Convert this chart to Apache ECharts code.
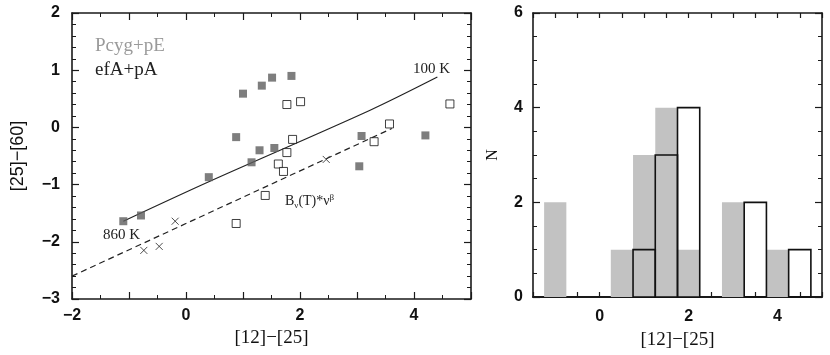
<!DOCTYPE html>
<html>
<head>
<meta charset="utf-8">
<script src="https://cdn.jsdelivr.net/npm/echarts@6/dist/echarts.min.js"></script>
<style>
  html, body { margin: 0; padding: 0; background: #fff; }
  #chart { width: 830px; height: 355px; }
</style>
</head>
<body>
<div id="chart"></div>
<script>
// colour-colour diagram (left) + histogram of [12]-[25] (right)

// Pcyg+pE : filled grey squares
const pcygX = [-1.10, -0.79, 0.40, 0.88, 1.00, 1.15, 1.29, 1.33, 1.51, 1.55, 1.85, 3.04, 3.08, 4.20];
const pcygY = [-1.64, -1.54, -0.87, -0.17, 0.59, -0.61, -0.40, 0.73, 0.87, -0.36, 0.90, -0.68, -0.15, -0.14];

// efA+pA : open squares
const efaX = [0.88, 1.39, 1.62, 1.71, 1.77, 1.77, 1.87, 2.01, 3.30, 3.57, 4.63];
const efaY = [-1.68, -1.19, -0.64, -0.77, -0.44, 0.40, -0.21, 0.45, -0.25, 0.06, 0.41];

// other objects : crosses
const crossX = [-0.74, -0.47, -0.19, 2.46];
const crossY = [-2.15, -2.08, -1.64, -0.56];

// blackbody track 860 K -> 100 K (solid)
const bbX = [-1.10, 0.40, 3.23, 4.41];
const bbY = [-1.64, -0.95, 0.30, 0.88];

// modified blackbody B_nu(T)*nu^beta (dashed)
const mbbX = [-2.00, 3.61];
const mbbY = [-2.60, -0.02];

// histogram, bin width 0.5
const binWidth = 0.5;
const greyCenters = [-1, 0.5, 1, 1.5, 2, 3, 4];
const greyCounts = [2, 1, 3, 4, 1, 2, 1];
const openCenters = [1, 1.5, 2, 3.5, 4.5];
const openCounts = [1, 3, 4, 2, 1];

const zip = (a, b) => a.map((v, i) => [v, b[i]]);

const AXIS_COLOR = '#1a1a1a';
const minus = v => String(v).replace('-', '\u2212');

function tickLabel(step) {
    return {
        fontFamily: 'Liberation Sans',
        fontWeight: 'bold',
        fontSize: 16,
        color: '#111',
        formatter: v => (Math.abs(v % step) < 1e-6 ? minus(v) : '')
    };
}

function axisBase(extra) {
    return Object.assign({
        type: 'value',
        splitLine: { show: false },
        axisLine: { show: true, onZero: false, lineStyle: { color: AXIS_COLOR, width: 1.6 } },
        axisTick: { show: true, inside: true, length: 7, lineStyle: { color: AXIS_COLOR, width: 1.2 } },
        minorTick: { show: true, length: 4, lineStyle: { color: AXIS_COLOR, width: 1 } }
    }, extra);
}

function histRect(fill, stroke) {
    return function (params, api) {
        const c = api.value(0);
        const n = api.value(1);
        const p0 = api.coord([c - binWidth / 2, 0]);
        const p1 = api.coord([c + binWidth / 2, n]);
        return {
            type: 'rect',
            shape: { x: p0[0], y: p1[1], width: p1[0] - p0[0], height: p0[1] - p1[1] },
            style: stroke
                ? { fill: 'none', stroke: stroke, lineWidth: 1.6 }
                : { fill: fill }
        };
    };
}

const chart = echarts.init(document.getElementById('chart'), null, { renderer: 'canvas' });

const option = {
    backgroundColor: '#fff',
    animation: false,
    grid: [
        { left: 72, top: 13, width: 399, height: 286 },
        { left: 533, top: 13, width: 289, height: 288 }
    ],
    xAxis: [
        axisBase({
            gridIndex: 0, min: -2, max: 5, interval: 1,
            minorTick: { show: true, splitNumber: 2, length: 4, lineStyle: { color: AXIS_COLOR } },
            axisLabel: Object.assign(tickLabel(2), { margin: 9 }),
            name: '[12]\u2212[25]', nameLocation: 'middle', nameGap: 30,
            nameTextStyle: { fontFamily: 'Liberation Serif', fontSize: 19, color: '#111' }
        }),
        axisBase({
            gridIndex: 0, position: 'top', min: -2, max: 5, interval: 1,
            minorTick: { show: true, splitNumber: 2, length: 4, lineStyle: { color: AXIS_COLOR } },
            axisLabel: { show: false }
        }),
        axisBase({
            gridIndex: 1, min: -1.5, max: 5, interval: 0.5,
            minorTick: { show: false },
            axisLine: { show: true, onZero: false, lineStyle: { color: AXIS_COLOR, width: 2 } },
            axisTick: { show: true, inside: true, length: 5, lineStyle: { color: AXIS_COLOR, width: 1.2 } },
            axisLabel: Object.assign(tickLabel(2), { margin: 12 }),
            name: '[12]\u2212[25]', nameLocation: 'middle', nameGap: 34,
            nameTextStyle: { fontFamily: 'Liberation Serif', fontSize: 19, color: '#111' }
        }),
        axisBase({
            gridIndex: 1, position: 'top', min: -1.5, max: 5, interval: 0.5,
            minorTick: { show: false },
            axisTick: { show: true, inside: true, length: 5, lineStyle: { color: AXIS_COLOR, width: 1.2 } },
            axisLabel: { show: false }
        })
    ],
    yAxis: [
        axisBase({
            gridIndex: 0, min: -3, max: 2, interval: 1,
            minorTick: { show: true, splitNumber: 5, length: 4, lineStyle: { color: AXIS_COLOR } },
            axisLabel: Object.assign(tickLabel(1), { margin: 12 }),
            name: '[25]\u2212[60]', nameLocation: 'middle', nameGap: 45,
            nameTextStyle: { fontFamily: 'Liberation Sans', fontSize: 18, color: '#111' }
        }),
        axisBase({
            gridIndex: 0, position: 'right', min: -3, max: 2, interval: 1,
            minorTick: { show: true, splitNumber: 5, length: 4, lineStyle: { color: AXIS_COLOR } },
            axisLabel: { show: false }
        }),
        axisBase({
            gridIndex: 1, min: 0, max: 6, interval: 2,
            minorTick: { show: true, splitNumber: 4, length: 4, lineStyle: { color: AXIS_COLOR } },
            axisLabel: Object.assign(tickLabel(2), { margin: 10 }),
            name: 'N', nameLocation: 'middle', nameGap: 32, nameRotate: 90,
            nameTextStyle: { fontFamily: 'Liberation Serif', fontSize: 16, color: '#111' }
        }),
        axisBase({
            gridIndex: 1, position: 'right', min: 0, max: 6, interval: 2,
            minorTick: { show: true, splitNumber: 4, length: 4, lineStyle: { color: AXIS_COLOR } },
            axisLabel: { show: false }
        })
    ],
    series: [
        {
            type: 'line', xAxisIndex: 0, yAxisIndex: 0,
            data: zip(bbX, bbY), symbol: 'none', smooth: 0.3,
            lineStyle: { color: '#222', width: 1.2 }, z: 2
        },
        {
            type: 'line', xAxisIndex: 0, yAxisIndex: 0,
            data: zip(mbbX, mbbY), symbol: 'none',
            lineStyle: { color: '#222', width: 1.2, type: [6, 4] }, z: 2
        },
        {
            name: 'Pcyg+pE', type: 'scatter', xAxisIndex: 0, yAxisIndex: 0,
            data: zip(pcygX, pcygY), symbol: 'rect', symbolSize: 8,
            itemStyle: { color: '#5e5e5e' }, z: 3
        },
        {
            name: 'efA+pA', type: 'scatter', xAxisIndex: 0, yAxisIndex: 0,
            data: zip(efaX, efaY), symbol: 'rect', symbolSize: 8,
            itemStyle: { color: '#fff', borderColor: '#111', borderWidth: 1 }, z: 3
        },
        {
            type: 'scatter', xAxisIndex: 0, yAxisIndex: 0,
            data: zip(crossX, crossY), symbol: 'path://M0,0L10,10M10,0L0,10', symbolSize: 7,
            itemStyle: { color: 'none', borderColor: '#222', borderWidth: 1 }, z: 3
        },
        {
            type: 'custom', xAxisIndex: 2, yAxisIndex: 2,
            data: zip(greyCenters, greyCounts),
            renderItem: histRect('#c2c2c2', null), z: 1
        },
        {
            type: 'custom', xAxisIndex: 2, yAxisIndex: 2,
            data: zip(openCenters, openCounts),
            renderItem: histRect(null, '#111'), z: 2
        }
    ],
    graphic: [
        { type: 'text', left: 95, top: 37,
          style: { text: 'Pcyg+pE', fontFamily: 'Liberation Serif', fontSize: 19, fill: '#9a9a9a' } },
        { type: 'text', left: 95, top: 61,
          style: { text: 'efA+pA', fontFamily: 'Liberation Serif', fontSize: 19, fill: '#222' } },
        { type: 'text', left: 413, top: 62,
          style: { text: '100 K', fontFamily: 'Liberation Serif', fontSize: 15, fill: '#222' } },
        { type: 'text', left: 103, top: 228,
          style: { text: '860 K', fontFamily: 'Liberation Serif', fontSize: 15, fill: '#222' } },
        { type: 'text', left: 285, top: 193,
          style: {
            text: '{a|B}{s|\u03bd}{a|(T)*\u03bd}{p|\u03b2}',
            rich: {
                a: { fontFamily: 'Liberation Serif', fontSize: 14, fill: '#222', lineHeight: 17, verticalAlign: 'middle' },
                s: { fontFamily: 'Liberation Serif', fontSize: 9, fill: '#222', lineHeight: 17, verticalAlign: 'bottom' },
                p: { fontFamily: 'Liberation Serif', fontSize: 9, fill: '#222', lineHeight: 17, verticalAlign: 'top' }
            }
          } }
    ]
};

chart.setOption(option);
</script>
</body>
</html>
